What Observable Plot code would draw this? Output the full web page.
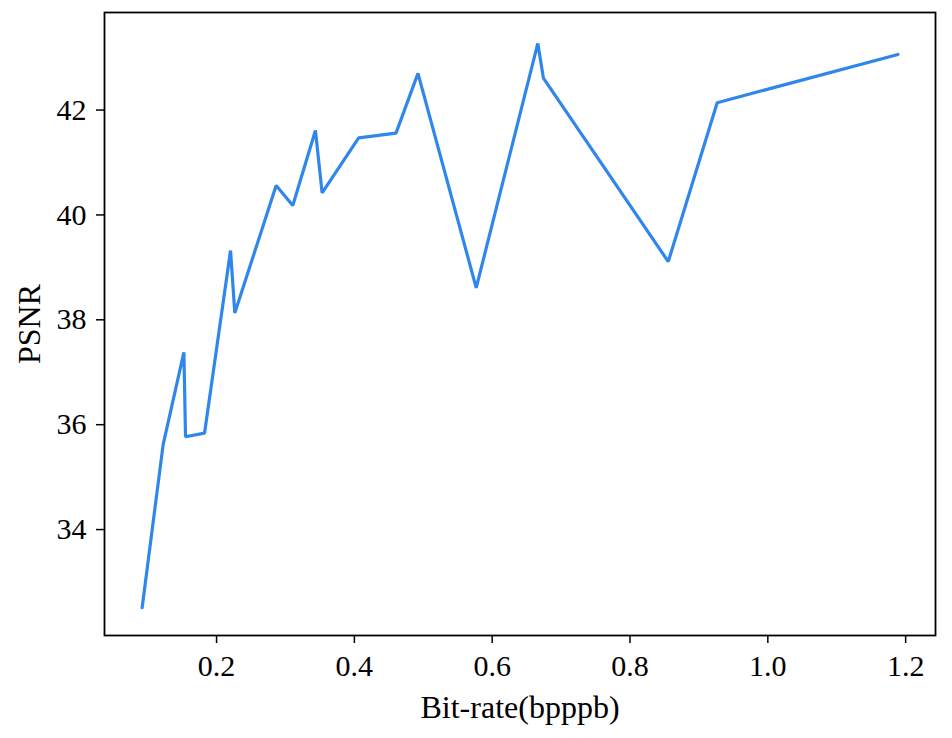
<!DOCTYPE html>
<html>
<head>
<meta charset="utf-8">
<script src="https://cdn.jsdelivr.net/npm/d3@7"></script>
<script src="https://cdn.jsdelivr.net/npm/@observablehq/plot@0.6"></script>
<style>
  html, body { margin: 0; padding: 0; background: #fff; }
  #chart svg { display: block; }
</style>
</head>
<body>
<div id="chart"></div>
<script>
const bitRate = [0.092, 0.1225, 0.1526, 0.155, 0.1826, 0.2203, 0.2265, 0.2865, 0.3106, 0.3435,
                 0.3532, 0.4062, 0.4604, 0.4923, 0.5768, 0.6662, 0.6743, 0.8555, 0.9265, 1.1888];
const psnr = [32.51, 35.62, 37.38, 35.77, 35.84, 39.32, 38.13, 40.56, 40.18, 41.61,
              40.42, 41.47, 41.56, 42.70, 38.61, 43.27, 42.61, 39.11, 42.14, 43.06];
const xTicks = [0.2, 0.4, 0.6, 0.8, 1.0, 1.2];
const yTicks = [34, 36, 38, 40, 42];
const xLabel = "Bit-rate(bpppb)";
const yLabel = "PSNR";

const data = bitRate.map((x, i) => ({x, y: psnr[i]}));
const serif = "'Liberation Serif', 'Times New Roman', serif";

const chart = Plot.plot({
  width: 952,
  height: 738,
  marginLeft: 104,
  marginRight: 17,
  marginTop: 12,
  marginBottom: 103,
  style: {fontFamily: serif, fontSize: "30px", color: "#000", background: "#fff"},
  x: {domain: [0.0374, 1.2433]},
  y: {domain: [31.98, 43.86]},
  marks: [
    Plot.axisX({ticks: xTicks, tickFormat: d => d.toFixed(1), tickSize: 8, tickPadding: 11, label: null, strokeWidth: 1.5}),
    Plot.axisY({ticks: yTicks, tickFormat: d => String(d), tickSize: 8, tickPadding: 10, label: null, strokeWidth: 1.5}),
    Plot.text([xLabel], {text: d => d, frameAnchor: "bottom", dy: 60, lineAnchor: "top", textAnchor: "middle", fontSize: 32, fill: "#000"}),
    Plot.text([yLabel], {text: d => d, frameAnchor: "left", dx: -75, rotate: -90, lineAnchor: "middle", textAnchor: "middle", fontSize: 32, fill: "#000"}),
    Plot.frame({stroke: "#000", strokeWidth: 1.8}),
    Plot.line(data, {x: "x", y: "y", stroke: "#2f87eb", strokeWidth: 3.2, strokeLinejoin: "miter"})
  ]
});
d3.select(chart).selectAll('g[aria-label="x-axis tick label"] text, g[aria-label="y-axis tick label"] text')
  .style("font-size", "30px").style("font-family", serif);
document.getElementById("chart").appendChild(chart);
</script>
</body>
</html>
